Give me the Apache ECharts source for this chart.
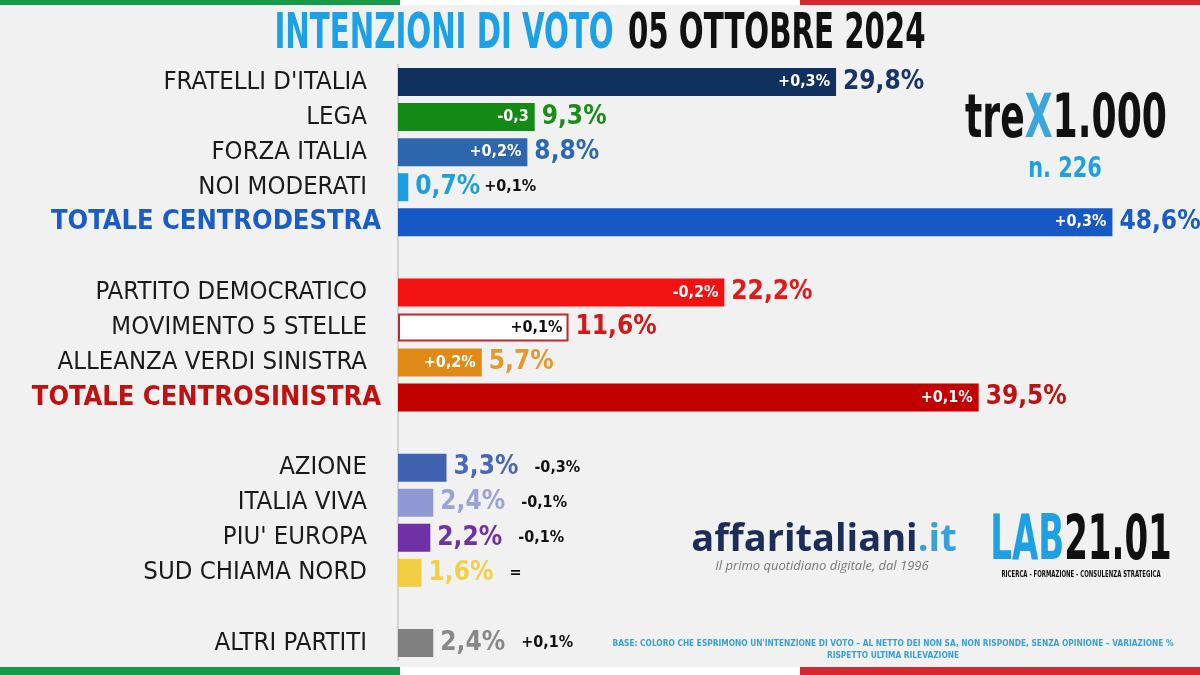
<!DOCTYPE html>
<html>
<head>
<meta charset="utf-8">
<script src="https://cdn.jsdelivr.net/npm/echarts@6/dist/echarts.min.js"></script>
<style>
html,body{margin:0;padding:0;background:#f1f1f1;}
#c{width:1200px;height:675px;}
</style>
</head>
<body>
<div id="c"></div>
<script>
const categories = ["FRATELLI D'ITALIA","LEGA","FORZA ITALIA","NOI MODERATI","TOTALE CENTRODESTRA"," ",
  "PARTITO DEMOCRATICO","MOVIMENTO 5 STELLE","ALLEANZA VERDI SINISTRA","TOTALE CENTROSINISTRA","  ",
  "AZIONE","ITALIA VIVA","PIU' EUROPA","SUD CHIAMA NORD","   ","ALTRI PARTITI"];
const values = [29.8, 9.3, 8.8, 0.7, 48.6, null, 22.2, 11.6, 5.7, 39.5, null, 3.3, 2.4, 2.2, 1.6, null, 2.4];
const changes = ["+0,3%","-0,3","+0,2%","+0,1%","+0,3%","","-0,2%","+0,1%","+0,2%","+0,1%","","-0,3%","-0,1%","-0,1%","=","","+0,1%"];
const barColors = ["#10305f","#148a16","#2c66ad","#1e9ee0","#1558c6",null,"#f21212","#ffffff","#e08a18","#c20000",null,"#3f62b0","#8f98d2","#7030a6","#f2ce44",null,"#808080"];
const valueColors = ["#17356a","#1d8c1d","#2d69b0","#1f9ee0","#1a5cc8",null,"#e81616","#d01a1a","#e39a2a","#c21010",null,"#4a68b6","#9aa2da","#7030a6","#f2cf46",null,"#888888"];

const BOLDC = "'DejaVu Sans Condensed','DejaVu Sans',sans-serif";
const COND = "'DejaVu Sans Condensed','DejaVu Sans',sans-serif";

function fmt(v){ return v.toFixed(1).replace('.',',') + '%'; }
const insideIdx = i => values[i] != null && values[i] > 5;

const mainData = values.map((v,i) => {
  if (v == null) return null;
  const isM5S = barColors[i] === '#ffffff';
  const inside = insideIdx(i);
  const txt = '{v|' + fmt(v) + '}' + (inside ? '' : '{' + (i===3 ? 'c2' : 'c') + '|' + changes[i] + '}');
  return {
    value: v,
    itemStyle: { color: barColors[i], borderColor: isM5S ? '#c0282d' : barColors[i], borderWidth: isM5S ? 2 : 0 },
    label: {
      show: true, position: 'right', distance: 7, formatter: txt,
      rich: {
        v: { fontFamily: BOLDC, fontWeight: 'bold', fontSize: 26, color: valueColors[i] },
        c: { fontFamily: BOLDC, fontWeight: 'bold', fontSize: 16, color: '#111', padding: [0,0,0,16] },
        c2: { fontFamily: BOLDC, fontWeight: 'bold', fontSize: 16, color: '#111', padding: [0,0,0,4] }
      }
    }
  };
});

const changeData = values.map((v,i) => {
  if (v == null || !insideIdx(i)) return null;
  return {
    value: v,
    label: { show: true, position: 'insideRight', distance: 6, formatter: changes[i],
      color: barColors[i] === '#ffffff' ? '#111' : '#fff',
      fontFamily: BOLDC, fontWeight: 'bold', fontSize: 16 }
  };
});

const chart = echarts.init(document.getElementById('c'));
chart.setOption({
  backgroundColor: '#f1f1f1',
  animation: false,
  grid: { left: 398, right: 67, top: 64.5, bottom: 14.5, containLabel: false, outerBoundsMode: 'none' },
  xAxis: { type: 'value', min: 0, max: 50, show: false },
  yAxis: {
    type: 'category', inverse: true, data: categories,
    axisLine: { show: true, lineStyle: { color: '#c8c8c8', width: 1.5 } },
    axisTick: { show: false },
    axisLabel: {
      interval: 0, margin: 17,
      formatter: (val) => {
        if (val.trim() === '') return '';
        if (val === 'TOTALE CENTRODESTRA') return '{tcd|' + val + '}';
        if (val === 'TOTALE CENTROSINISTRA') return '{tcs|' + val + '}';
        return '{n|' + val + '}';
      },
      rich: {
        n: { fontFamily: COND, fontSize: 25.5, color: '#1a1a1a', padding: [0,14,0,0] },
        tcd: { fontFamily: BOLDC, fontWeight: 'bold', fontSize: 27, color: '#1a5cc8' },
        tcs: { fontFamily: BOLDC, fontWeight: 'bold', fontSize: 27, color: '#c21010' }
      }
    }
  },
  series: [
    { type: 'bar', data: mainData, barWidth: 28, barGap: '-100%' },
    { type: 'bar', data: changeData, barWidth: 28, barGap: '-100%', itemStyle: { color: 'rgba(0,0,0,0)' }, silent: true }
  ],
  graphic: [
    { type: 'rect', shape: { x: 0, y: 0, width: 400, height: 5 }, style: { fill: '#17994a' } },
    { type: 'rect', shape: { x: 400, y: 0, width: 400, height: 5 }, style: { fill: '#ffffff' } },
    { type: 'rect', shape: { x: 800, y: 0, width: 400, height: 5 }, style: { fill: '#d6262f' } },
    { type: 'rect', shape: { x: 0, y: 667, width: 400, height: 8 }, style: { fill: '#17994a' } },
    { type: 'rect', shape: { x: 400, y: 667, width: 400, height: 8 }, style: { fill: '#ffffff' } },
    { type: 'rect', shape: { x: 800, y: 667, width: 400, height: 8 }, style: { fill: '#d6262f' } },
    { type: 'text', x: 600, y: 35, scaleX: 0.65, scaleY: 1, style: {
        text: '{a|INTENZIONI DI VOTO}{b|05 OTTOBRE 2024}',
        align: 'center', verticalAlign: 'middle', textAlign: 'center', textVerticalAlign: 'middle',
        rich: {
          a: { fontFamily: BOLDC, fontWeight: 'bold', fontSize: 50, fill: '#1ea0e6' },
          b: { fontFamily: BOLDC, fontWeight: 'bold', fontSize: 50, fill: '#111', padding: [0,0,0,22] }
        } } },
    { type: 'text', x: 1066, y: 121, scaleX: 0.67, scaleY: 1, style: {
        text: '{a|tre}{x|X}{a|1.000}',
        align: 'center', verticalAlign: 'middle', textAlign: 'center', textVerticalAlign: 'middle',
        rich: {
          a: { fontFamily: BOLDC, fontWeight: 'bold', fontSize: 60, fill: '#111' },
          x: { fontFamily: BOLDC, fontWeight: 'bold', fontSize: 60, fill: '#3aa6dc' }
        } } },
    { type: 'text', x: 1065, y: 169, scaleX: 0.8, scaleY: 1, style: { text: 'n. 226',
        align: 'center', verticalAlign: 'middle', textAlign: 'center', textVerticalAlign: 'middle',
        fontFamily: BOLDC, fontWeight: 'bold', fontSize: 29, fill: '#1ea0e6' } },
    { type: 'text', x: 824, y: 540, style: {
        text: '{a|affaritaliani}{b|.it}',
        align: 'center', verticalAlign: 'middle', textAlign: 'center', textVerticalAlign: 'middle',
        rich: {
          a: { fontFamily: "'Open Sans','DejaVu Sans',sans-serif", fontWeight: 'bold', fontSize: 38, fill: '#1c2d58' },
          b: { fontFamily: "'Open Sans','DejaVu Sans',sans-serif", fontWeight: 'bold', fontSize: 38, fill: '#3aa0dc' }
        } } },
    { type: 'text', x: 822, y: 566, style: { text: 'Il primo quotidiano digitale, dal 1996',
        align: 'center', verticalAlign: 'middle', textAlign: 'center', textVerticalAlign: 'middle',
        fontFamily: "'Open Sans',sans-serif", fontStyle: 'italic', fontSize: 13, fill: '#777' } },
    { type: 'text', x: 1081, y: 543, scaleX: 0.61, scaleY: 1, style: {
        text: '{a|LAB}{b|21.01}',
        align: 'center', verticalAlign: 'middle', textAlign: 'center', textVerticalAlign: 'middle',
        rich: {
          a: { fontFamily: BOLDC, fontWeight: 'bold', fontSize: 62, fill: '#1ea0e6' },
          b: { fontFamily: BOLDC, fontWeight: 'bold', fontSize: 62, fill: '#111' }
        } } },
    { type: 'text', x: 1081, y: 575, scaleX: 0.75, scaleY: 1, style: { text: 'RICERCA - FORMAZIONE - CONSULENZA STRATEGICA',
        align: 'center', verticalAlign: 'middle', textAlign: 'center', textVerticalAlign: 'middle',
        fontFamily: BOLDC, fontWeight: 'bold', fontSize: 8, fill: '#111' } },
    { type: 'text', x: 893, y: 644, style: {
        text: "BASE: COLORO CHE ESPRIMONO UN'INTENZIONE DI VOTO – AL NETTO DEI NON SA, NON RISPONDE, SENZA OPINIONE – VARIAZIONE %",
        align: 'center', verticalAlign: 'middle', textAlign: 'center', textVerticalAlign: 'middle',
        fontFamily: BOLDC, fontWeight: 'bold', fontSize: 8.3, fill: '#3a9fdc' } },
    { type: 'text', x: 893, y: 656, style: {
        text: "RISPETTO ULTIMA RILEVAZIONE",
        align: 'center', verticalAlign: 'middle', textAlign: 'center', textVerticalAlign: 'middle',
        fontFamily: BOLDC, fontWeight: 'bold', fontSize: 8.3, fill: '#3a9fdc' } }
  ]
});
</script>
</body>
</html>
